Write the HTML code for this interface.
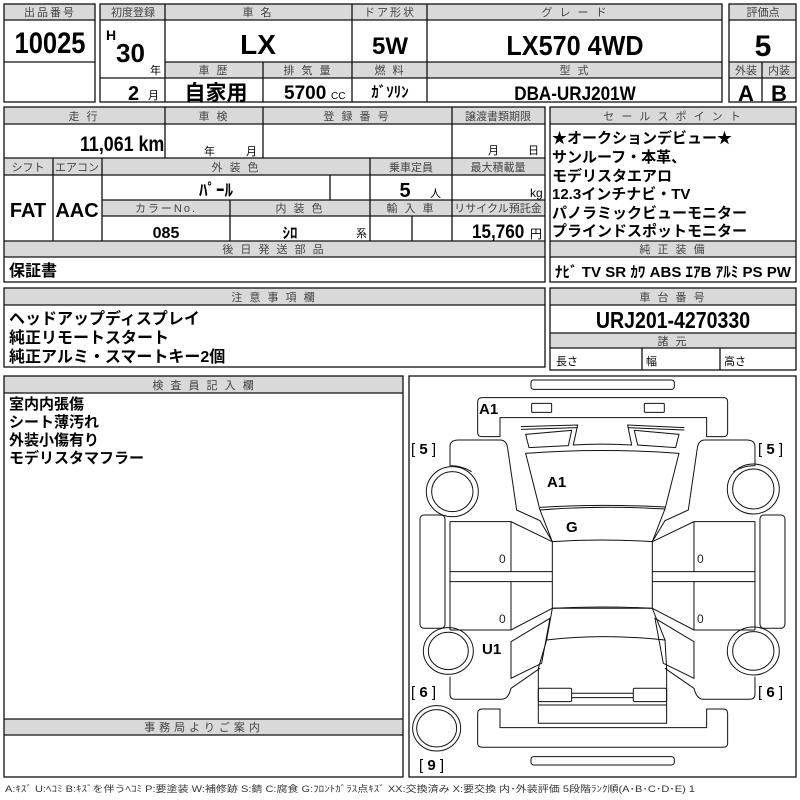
<!DOCTYPE html>
<html><head><meta charset="utf-8"><style>
html,body{margin:0;padding:0;background:#fff}
svg{display:block}
text{font-family:"Liberation Sans","Noto Sans CJK JP",sans-serif}
.h{font-size:11px;fill:#444;text-anchor:middle;letter-spacing:2px}
.b{font-weight:bold;fill:#000}
.c{text-anchor:middle}
</style></head><body>
<svg width="800" height="800" viewBox="0 0 800 800" xmlns="http://www.w3.org/2000/svg">
<g fill="#d9d9d9" stroke="none">
<rect x="4" y="4" width="91" height="16"/>
<rect x="100" y="4" width="622" height="16"/>
<rect x="165" y="62" width="557" height="16"/>
<rect x="729" y="4" width="67" height="16"/>
<rect x="729" y="62" width="67" height="16"/>
<rect x="4" y="107" width="541" height="17"/>
<rect x="4" y="158" width="541" height="17"/>
<rect x="102" y="200" width="443" height="16"/>
<rect x="4" y="241" width="541" height="16"/>
<rect x="550" y="107" width="246" height="17"/>
<rect x="550" y="241" width="246" height="16"/>
<rect x="4" y="288" width="541" height="17"/>
<rect x="550" y="288" width="246" height="17"/>
<rect x="550" y="333" width="246" height="15"/>
<rect x="4" y="376" width="399" height="17"/>
<rect x="4" y="719" width="399" height="16"/>
</g>
<g fill="none" stroke="#111" stroke-width="1.3">
<rect x="4" y="4" width="91" height="98"/>
<path d="M4 20H95M4 62H95"/>
<rect x="100" y="4" width="622" height="98"/>
<path d="M100 20H722M165 62H722M100 78H722M165 4V102M352 4V102M427 4V102M263 62V102"/>
<rect x="729" y="4" width="67" height="98"/>
<path d="M729 20H796M729 62H796M729 78H796M762 62V102"/>
<rect x="4" y="107" width="541" height="175"/>
<path d="M4 124H545M4 158H545M4 175H545M102 200H545M102 216H545M4 241H545M4 257H545M165 107V158M263 107V158M452 107V241M53 158V241M102 158V241M370 158V241M330 175V200M230 200V241M412 216V241"/>
<rect x="550" y="107" width="246" height="175"/>
<path d="M550 124H796M550 241H796M550 257H796"/>
<rect x="4" y="288" width="541" height="79"/>
<path d="M4 305H545"/>
<rect x="550" y="288" width="246" height="82"/>
<path d="M550 305H796M550 333H796M550 348H796M642 348V370M720 348V370"/>
<rect x="4" y="376" width="399" height="401"/>
<path d="M4 393H403M4 719H403M4 735H403"/>
<rect x="409" y="376" width="387" height="401"/>
</g>
<!-- headers -->
<text class="h" x="50" y="16">出品番号</text>
<text class="h" x="133" y="16" style="letter-spacing:0">初度登録</text>
<text class="h" x="258" y="16">車 名</text>
<text class="h" x="390" y="16">ドア形状</text>
<text class="h" x="575" y="16">グ レ ー ド</text>
<text class="h" x="763" y="16" style="letter-spacing:0">評価点</text>
<text class="h" x="214" y="74">車 歴</text>
<text class="h" x="308" y="74">排 気 量</text>
<text class="h" x="390" y="74">燃 料</text>
<text class="h" x="575" y="74">型 式</text>
<text class="h" x="746" y="74" style="letter-spacing:0">外装</text>
<text class="h" x="779" y="74" style="letter-spacing:0">内装</text>
<text class="h" x="84" y="120">走 行</text>
<text class="h" x="214" y="120">車 検</text>
<text class="h" x="357" y="120">登 録 番 号</text>
<text class="h" x="498" y="120" style="letter-spacing:0">譲渡書類期限</text>
<text class="h" x="28" y="171" style="letter-spacing:0">シフト</text>
<text class="h" x="77" y="171" style="letter-spacing:0">エアコン</text>
<text class="h" x="236" y="171">外 装 色</text>
<text class="h" x="411" y="171" style="letter-spacing:0">乗車定員</text>
<text class="h" x="498" y="171" style="letter-spacing:0">最大積載量</text>
<text class="h" x="166" y="212">カラーNo.</text>
<text class="h" x="300" y="212">内 装 色</text>
<text class="h" x="411" y="212">輸 入 車</text>
<text class="h" x="498" y="212" style="letter-spacing:0">リサイクル預託金</text>
<text class="h" x="274" y="253">後 日 発 送 部 品</text>
<text class="h" x="673" y="120">セ ー ル ス ポ イ ン ト</text>
<text class="h" x="673" y="253">純 正 装 備</text>
<text class="h" x="274" y="301">注 意 事 項 欄</text>
<text class="h" x="673" y="301">車 台 番 号</text>
<text class="h" x="673" y="345">諸 元</text>
<text class="h" x="204" y="389">検 査 員 記 入 欄</text>
<text class="h" x="204" y="731" style="letter-spacing:4px">事務局よりご案内</text>
<!-- values -->
<text class="b c" x="50" y="53" font-size="30" transform="translate(50 0) scale(0.85 1) translate(-50 0)">10025</text>
<text class="b" x="106" y="40" font-size="14">H</text>
<text class="b" x="116" y="62" font-size="26">30</text>
<text x="150" y="74" font-size="11">年</text>
<text class="b" x="128" y="100" font-size="20">2</text>
<text x="148" y="99" font-size="11">月</text>
<text class="b c" x="258" y="54" font-size="28">LX</text>
<text class="b c" x="390" y="54" font-size="24">5W</text>
<text class="b c" x="575" y="55" font-size="28" transform="translate(575 0) scale(0.9 1) translate(-575 0)">LX570 4WD</text>
<text class="b c" x="763" y="56" font-size="30">5</text>
<text class="b c" x="746" y="101" font-size="22">A</text>
<text class="b c" x="779" y="101" font-size="22">B</text>
<text class="b c" x="216" y="100" font-size="21">自家用</text>
<text class="b" x="284" y="99" font-size="19">5700</text>
<text x="331" y="99" font-size="10">CC</text>
<text class="b c" x="390" y="97" font-size="15">ｶﾞｿﾘﾝ</text>
<text class="b c" x="575" y="100" font-size="19" transform="translate(575 0) scale(0.9 1) translate(-575 0)">DBA-URJ201W</text>
<text class="b" x="80" y="151" font-size="21" transform="translate(80 0) scale(0.85 1) translate(-80 0)">11,061 km</text>
<text x="204" y="155" font-size="11">年</text>
<text x="246" y="155" font-size="11">月</text>
<text x="488" y="154" font-size="11">月</text>
<text x="528" y="154" font-size="11">日</text>
<text class="b c" x="216" y="196" font-size="17">ﾊﾟｰﾙ</text>
<text class="b c" x="405" y="197" font-size="20">5</text>
<text x="430" y="197" font-size="11">人</text>
<text x="530" y="197" font-size="12">kg</text>
<text class="b c" x="28" y="217" font-size="20">FAT</text>
<text class="b c" x="77" y="217" font-size="20">AAC</text>
<text class="b c" x="166" y="238" font-size="16">085</text>
<text class="b c" x="290" y="238" font-size="15">ｼﾛ</text>
<text x="356" y="237" font-size="11">系</text>
<text class="b" x="472" y="238" font-size="19" transform="translate(472 0) scale(0.9 1) translate(-472 0)">15,760</text>
<text x="530" y="238" font-size="12">円</text>
<text class="b" x="9" y="276" font-size="16">保証書</text>
<g class="b" font-size="15">
<text x="552" y="143">★オークションデビュー★</text>
<text x="552" y="162">サンルーフ・本革、</text>
<text x="552" y="181">モデリスタエアロ</text>
<text x="552" y="199">12.3インチナビ・TV</text>
<text x="552" y="218">パノラミックビューモニター</text>
<text x="552" y="236">プラインドスポットモニター</text>
</g>
<text class="b" x="555" y="277" font-size="15" textLength="236" lengthAdjust="spacingAndGlyphs">ﾅﾋﾞ TV SR ｶﾜ ABS ｴｱB ｱﾙﾐ PS PW</text>
<g class="b" font-size="16">
<text x="9" y="324">ヘッドアップディスプレイ</text>
<text x="9" y="343">純正リモートスタート</text>
<text x="9" y="362">純正アルミ・スマートキー2個</text>
</g>
<text class="b c" x="673" y="328" font-size="23" transform="translate(673 0) scale(0.85 1) translate(-673 0)">URJ201-4270330</text>
<text x="556" y="365" font-size="11">長さ</text>
<text x="646" y="365" font-size="11">幅</text>
<text x="724" y="365" font-size="11">高さ</text>
<g class="b" font-size="15">
<text x="9" y="409">室内内張傷</text>
<text x="9" y="427">シート薄汚れ</text>
<text x="9" y="445">外装小傷有り</text>
<text x="9" y="463">モデリスタマフラー</text>
</g>
<text x="5" y="792" font-size="9" fill="#333" textLength="690" lengthAdjust="spacingAndGlyphs">A:ｷｽﾞ U:ﾍｺﾐ B:ｷｽﾞを伴うﾍｺﾐ P:要塗装 W:補修跡 S:錆 C:腐食 G:ﾌﾛﾝﾄｶﾞﾗｽ点ｷｽﾞ XX:交換済み X:要交換 内･外装評価 5段階ﾗﾝｸ順(A･B･C･D･E) 1</text>
<!-- car diagram in zoom coords -->
<g transform="translate(405 375) scale(0.3333)" fill="none" stroke="#111" stroke-width="3">
<rect x="378" y="15" width="430" height="28" rx="8"/>
<rect x="378" y="1145" width="430" height="25" rx="8"/>
<path d="M232 68H955Q968 68 968 80V172Q968 185 955 185H905V128H285V185H232Q218 185 218 172V80Q218 68 232 68Z"/>
<rect x="380" y="85" width="60" height="27" rx="3"/>
<rect x="718" y="85" width="60" height="27" rx="3"/>
<path d="M232 1117H955Q968 1117 968 1105V1015Q968 1002 955 1002H905V1058H285V1002H232Q218 1002 218 1015V1105Q218 1117 232 1117Z"/>
<path d="M348 155L518 150L505 210Q590 205 680 210L668 150L838 158"/>
<path d="M348 163L518 158"/><path d="M668 158L838 165"/>
<path d="M362 178L500 166L490 212L372 218Z"/>
<path d="M688 166L822 178L812 218L698 210Z"/>
<path d="M362 235Q590 218 822 235L780 402Q590 390 405 405Z"/>
<path d="M405 405L442 500Q590 490 742 500L780 402"/>
<path d="M405 397Q590 386 780 396"/>
<path d="M442 500V700H742V500"/>
<path d="M442 700Q590 692 742 700L780 795Q590 775 425 795Z"/>
<path d="M425 795L400 880V1045H785V880L780 795"/>
<path d="M400 990H785"/>
<rect x="400" y="940" width="100" height="40" rx="4"/>
<rect x="685" y="940" width="100" height="40" rx="4"/>
<path d="M500 955H685M500 968H685"/>
<!-- left side -->
<path d="M135 272V215Q135 195 160 195H285Q305 195 308 220L335 405L405 437L442 500"/>
<path d="M135 440H318L442 500M135 590H442M135 620H442M318 440V590M318 620V765M135 765H318L442 700M135 440V765"/>
<path d="M135 272Q170 272 200 290"/>
<path d="M318 800L435 730L410 865L318 910Z"/>
<path d="M405 880L318 940Q310 973 290 973H150Q135 973 135 958V905"/>
<rect x="45" y="420" width="75" height="340" rx="12"/>
<ellipse cx="142" cy="350" rx="78" ry="75"/><ellipse cx="142" cy="350" rx="62" ry="60"/>
<ellipse cx="130" cy="828" rx="75" ry="70"/><ellipse cx="130" cy="828" rx="60" ry="56"/>
<ellipse cx="95" cy="1060" rx="72" ry="68"/><ellipse cx="95" cy="1060" rx="60" ry="56"/>
<!-- right side -->
<path d="M1050 272V215Q1050 195 1025 195H900Q880 195 877 220L850 405L780 437L742 500"/>
<path d="M1050 440H867L742 500M1050 590H742M1050 620H742M867 440V590M867 620V765M1050 765H867L742 700M1050 440V765"/>
<path d="M1050 272Q1015 272 985 290"/>
<path d="M867 800L750 730L775 865L867 910Z"/>
<path d="M780 880L867 940Q875 973 895 973H1035Q1050 973 1050 958V905"/>
<rect x="1065" y="420" width="75" height="340" rx="12"/>
<ellipse cx="1045" cy="342" rx="78" ry="75"/><ellipse cx="1045" cy="342" rx="62" ry="60"/>
<ellipse cx="1045" cy="828" rx="78" ry="72"/><ellipse cx="1045" cy="828" rx="62" ry="58"/>
</g>
<g class="b" font-size="15">
<text x="479" y="414">A1</text>
<text x="547" y="487">A1</text>
<text x="566" y="532">G</text>
<text x="482" y="654">U1</text>
</g>
<g font-size="15">
<text x="411" y="454" xml:space="preserve">[ <tspan font-weight="bold">5</tspan> ]</text>
<text x="758" y="454" xml:space="preserve">[ <tspan font-weight="bold">5</tspan> ]</text>
<text x="411" y="697" xml:space="preserve">[ <tspan font-weight="bold">6</tspan> ]</text>
<text x="758" y="697" xml:space="preserve">[ <tspan font-weight="bold">6</tspan> ]</text>
<text x="419" y="770" xml:space="preserve">[ <tspan font-weight="bold">9</tspan> ]</text>
</g>
<g font-size="12" fill="#222">
<text x="499" y="563">0</text><text x="499" y="623">0</text>
<text x="697" y="563">0</text><text x="697" y="623">0</text>
</g>
</svg>
</body></html>
